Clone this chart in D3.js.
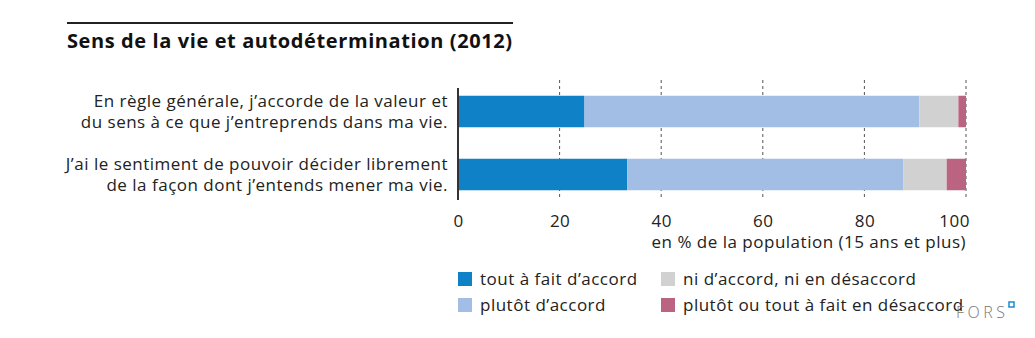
<!DOCTYPE html>
<html><head><meta charset="utf-8">
<script src="https://cdn.jsdelivr.net/npm/d3@7"></script>
<style>body{margin:0;background:#fff;} svg{display:block;font-family:"Open Sans",sans-serif;}</style>
</head><body>
<svg id="c" width="1035" height="338"></svg>
<script>
const title = "Sens de la vie et autodétermination (2012)";
const categories = [
  ["En règle générale, j’accorde de la valeur et", "du sens à ce que j’entreprends dans ma vie."],
  ["J’ai le sentiment de pouvoir décider librement", "de la façon dont j’entends mener ma vie."]
];
const seriesNames = ["tout à fait d’accord", "plutôt d’accord", "ni d’accord, ni en désaccord", "plutôt ou tout à fait en désaccord"];
const toutAFait = [24.9, 33.3];
const plutot = [65.9, 54.4];
const ni = [7.7, 8.5];
const desaccord = [1.5, 3.8];
const tickValues = [0, 20, 40, 60, 80, 100];
const axisLabel = "en % de la population (15 ans et plus)";
const colors = ["#0f81c6", "#a2bee4", "#d1d1d1", "#bb6481"];

const svg = d3.select("#c");
const x = d3.scaleLinear().domain([0, 100]).range([458, 966]);
const y = d3.scaleBand().domain([0, 1]).range([80, 206]).paddingInner(0.5).paddingOuter(0.25);
const LS = 0.5;

// title
svg.append("line").attr("x1", 67).attr("x2", 513).attr("y1", 23).attr("y2", 23).attr("stroke", "#222").attr("stroke-width", 2);
svg.append("text").attr("x", 67).attr("y", 48).attr("font-size", 20).attr("letter-spacing", 0.6).attr("font-weight", "bold").attr("fill", "#111").text(title);

// gridlines
svg.append("g").selectAll("line").data(tickValues.filter(d => d > 0)).join("line")
  .attr("x1", d => x(d)).attr("x2", d => x(d)).attr("y1", 80).attr("y2", 199)
  .attr("stroke", "#555").attr("stroke-width", 1).attr("stroke-dasharray", "3,3");

// stacked data
const rows = categories.map((c, i) => ({i, vals: [toutAFait[i], plutot[i], ni[i], desaccord[i]]}));
const segs = [];
rows.forEach(r => { let acc = 0; r.vals.forEach((v, k) => { segs.push({i: r.i, k, x0: acc, x1: acc + v}); acc += v; }); });
svg.append("g").selectAll("rect").data(segs).join("rect")
  .attr("x", d => x(d.x0)).attr("width", d => x(d.x1) - x(d.x0))
  .attr("y", d => y(d.i)).attr("height", y.bandwidth())
  .attr("fill", d => colors[d.k]);

// axis baseline
svg.append("line").attr("x1", x(0)).attr("x2", x(0)).attr("y1", 88).attr("y2", 200).attr("stroke", "#333").attr("stroke-width", 2);

// tick labels
const axis = d3.axisBottom(x).tickValues(tickValues).tickSize(0).tickPadding(0);
const ag = svg.append("g").attr("transform", "translate(0,215)").call(axis);
ag.select(".domain").remove();
ag.selectAll("text").attr("font-size", 17).attr("letter-spacing", LS).attr("fill", "#222").attr("font-family", "Open Sans, sans-serif")
  .attr("text-anchor", d => d === 100 ? "end" : "middle").attr("dx", d => d === 100 ? "0.2em" : 0);
svg.append("text").attr("x", 966).attr("y", 248).attr("text-anchor", "end").attr("font-size", 17).attr("letter-spacing", LS).attr("fill", "#222").text(axisLabel);

// category labels
categories.forEach((lines, i) => {
  const cy = y(i) + y.bandwidth() / 2;
  lines.forEach((l, j) => {
    svg.append("text").attr("x", 448).attr("y", cy - 5 + j * 21).attr("text-anchor", "end")
      .attr("font-size", 17).attr("letter-spacing", LS).attr("fill", "#222").text(l);
  });
});

// legend
const legPos = [[458, 272], [458, 298], [661, 272], [661, 298]];
seriesNames.forEach((n, k) => {
  const [lx, ly] = legPos[k];
  svg.append("rect").attr("x", lx).attr("y", ly).attr("width", 14).attr("height", 14).attr("fill", colors[k]);
  svg.append("text").attr("x", lx + 22).attr("y", ly + 13).attr("font-size", 17).attr("letter-spacing", LS).attr("fill", "#222").text(n);
});

// FORS logo
svg.append("text").attr("x", 956).attr("y", 318).attr("font-size", 16).attr("font-weight", 300).attr("letter-spacing", 3.5).attr("fill", "#777").text("FORS");
svg.append("rect").attr("x", 1009).attr("y", 302).attr("width", 5).attr("height", 5).attr("fill", "#fff").attr("stroke", "#1a8ad0").attr("stroke-width", 1.5);
</script>
</body></html>
